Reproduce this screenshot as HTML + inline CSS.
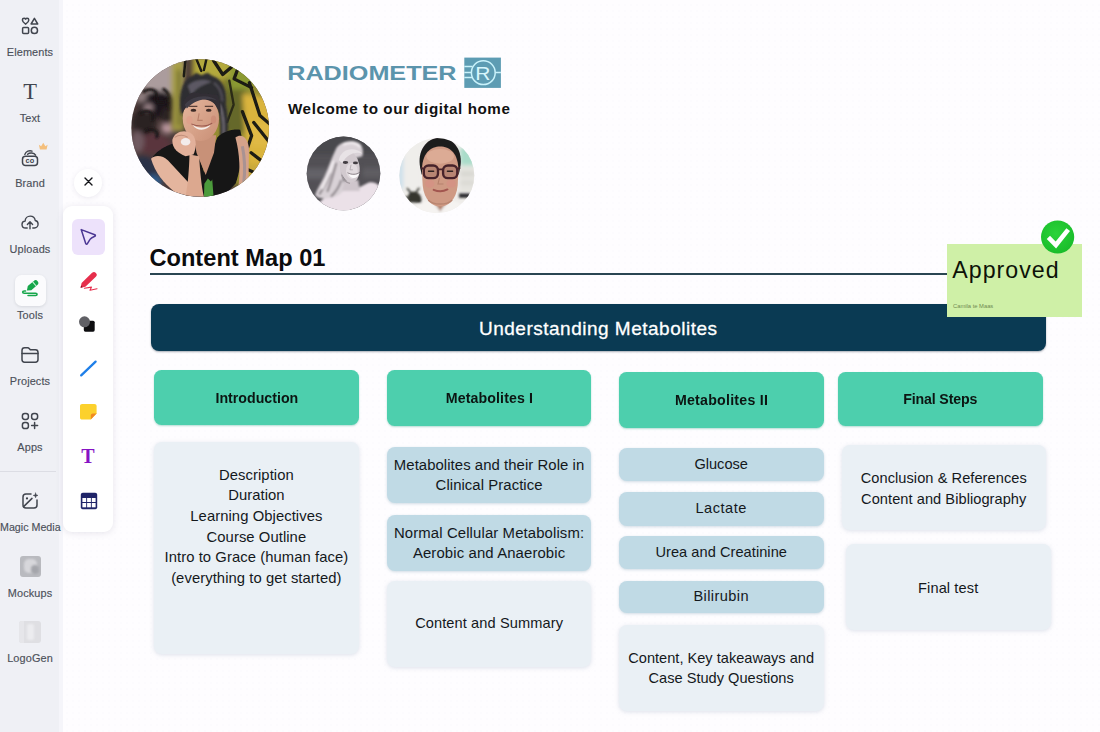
<!DOCTYPE html>
<html lang="en">
<head>
<meta charset="utf-8">
<title>Content Map 01</title>
<style>
*{box-sizing:border-box;margin:0;padding:0}
html,body{width:1100px;height:732px;overflow:hidden}
body{position:relative;font-family:"Liberation Sans",sans-serif;color:#111;
 background-color:#fefdff;
 background-image:radial-gradient(circle,#fcfbfe 0.8px,transparent 1.2px);
 background-size:6px 6px;background-position:64px 2px}
.abs{position:absolute}
/* ---------- sidebar ---------- */
#side{position:absolute;left:0;top:0;width:63px;height:732px;background:#f5f5fa}
#side .in{position:absolute;left:0;top:0;width:58.5px;height:732px;background:#eff0f5}
.nav{position:absolute;left:0;width:60px;text-align:center;font-size:10.9px;letter-spacing:.12px;color:#4c505a;line-height:12px;white-space:nowrap;-webkit-text-stroke:.15px #4c505a}
.ico{position:absolute;left:18px;width:24px;height:24px}
.ico svg{width:24px;height:24px;display:block;fill:none;stroke:#41454e;stroke-width:1.5;stroke-linecap:round;stroke-linejoin:round}
#toolsbg{position:absolute;left:14.5px;top:274.5px;width:31px;height:31px;border-radius:6.5px;background:#fbfbfd;box-shadow:0 1px 3px rgba(60,64,80,.14)}
#divider{position:absolute;left:0;top:470.5px;width:56px;height:1px;background:#dcdde4}
/* ---------- tool palette ---------- */
#closebtn{position:absolute;left:74px;top:169px;width:28px;height:28px;border-radius:50%;background:#fff;box-shadow:0 1px 5px rgba(70,60,100,.10)}
#palette{position:absolute;left:63.3px;top:206.2px;width:50.2px;height:325.8px;border-radius:9px;background:#fff;box-shadow:0 1px 7px rgba(70,60,100,.13)}
#selbg{position:absolute;left:71.5px;top:219.3px;width:33.4px;height:35.6px;border-radius:6px;background:#ede2fb}
/* ---------- header ---------- */
#welcome{position:absolute;left:288px;top:98.8px;font-size:15.2px;font-weight:bold;line-height:20px;white-space:nowrap;color:#111;letter-spacing:.56px}
#title{position:absolute;left:149.4px;top:244.4px;font-size:23.6px;font-weight:bold;line-height:28px;white-space:nowrap;color:#0b0b0d;letter-spacing:.03px}
#rule{position:absolute;left:150px;top:273.1px;width:800px;height:1.6px;background:#2a4652}
#bar{position:absolute;left:150.5px;top:304px;width:895.5px;height:47px;border-radius:8px;background:#0a3a53;color:#fff;
 font-size:19px;letter-spacing:.5px;line-height:49px;text-align:center;box-shadow:0 1px 2px rgba(0,20,40,.35);-webkit-text-stroke:.3px #fff}
#bar span{position:relative;left:0}
/* ---------- sticker ---------- */
#sticker{position:absolute;left:946.5px;top:244px;width:135.5px;height:72.5px;background:#cff0a7}
#approved{position:absolute;left:952.3px;top:255.8px;font-size:23.2px;letter-spacing:1px;line-height:28px;color:#0d1208;white-space:nowrap}
#author{position:absolute;left:953px;top:303.3px;font-size:5.8px;line-height:6px;color:#6f8a52;white-space:nowrap}
/* ---------- columns ---------- */
.g{position:absolute;border-radius:7.5px;background:#4dcfad;color:#0c1512;font-weight:bold;font-size:15.4px;text-align:center;white-space:nowrap;box-shadow:0 1px 2px rgba(40,160,130,.35)}
.g span{display:inline-block;transform:scaleX(.922)}
.b{position:absolute;border-radius:8px;background:#c0dae5;color:#14181c;font-size:14.6px;text-align:center;white-space:nowrap;line-height:20.4px;box-shadow:0 1px 3px rgba(150,180,195,.45)}
.l{position:absolute;border-radius:8px;background:#eaf0f5;color:#14181c;font-size:14.6px;text-align:center;white-space:nowrap;line-height:20.6px;box-shadow:0 1px 4px rgba(190,200,215,.5)}
.t{position:absolute;left:0;right:0}
</style>
</head>
<body>

<!-- SIDEBAR -->
<div id="side"><div class="in"></div></div>
<div id="toolsbg"></div>
<div id="divider"></div>

<!-- PALETTE -->
<div id="closebtn"></div>
<div id="palette"></div>
<div id="selbg"></div>


<!-- sidebar icons -->
<div class="ico" style="top:13.9px"><svg viewBox="0 0 24 24"><path d="M7.6 10.2 C5.2 8.6 4.4 7.2 4.4 6 C4.4 4.9 5.2 4.3 6.1 4.3 C6.8 4.3 7.3 4.7 7.6 5.2 C7.9 4.7 8.4 4.3 9.1 4.3 C10 4.3 10.8 4.9 10.8 6 C10.8 7.2 10 8.6 7.6 10.2Z"/><path d="M16.4 4.3 L19.7 10 H13.1Z"/><rect x="4.6" y="13.4" width="6" height="6" rx="1"/><circle cx="16.4" cy="16.4" r="3.1"/></svg></div>
<div class="nav" style="top:46px">Elements</div>

<div class="abs" style="left:18px;top:79px;width:24px;height:26px;text-align:center;font-family:'Liberation Serif',serif;font-size:22.5px;line-height:26px;color:#41454e">T</div>
<div class="nav" style="top:111.5px">Text</div>

<div class="ico" style="top:146px"><svg viewBox="0 0 24 24"><rect x="4.5" y="10.2" width="15" height="9.4" rx="3"/><path d="M6.8 8.4 C8 5.4 11.4 4 14 5.2" style="stroke-width:1.4"/><path d="M9.6 8.2 C11.8 6.2 16 6.6 17.6 9.2" style="stroke-width:1.4"/><text x="12" y="17.3" text-anchor="middle" style="font-family:'Liberation Sans',sans-serif;font-weight:bold;font-size:7.4px;fill:#41454e;stroke:none;letter-spacing:.2px">co</text></svg></div>
<svg class="abs" style="left:37.6px;top:141px;opacity:.9" width="10.5" height="10.5" viewBox="0 0 12 12"><path d="M1 4.2 L3.6 6 L6 2 L8.4 6 L11 4.2 L9.8 9.6 H2.2Z" fill="#f5ba70"/></svg>
<div class="nav" style="top:176.5px">Brand</div>

<div class="ico" style="top:210.5px"><svg viewBox="0 0 24 24"><g transform="translate(12 11.4) scale(.93) translate(-12 -12.4)"><path d="M9 18.4 H7.4 C4.9 18.4 3.4 16.6 3.4 14.6 C3.4 12.6 4.9 11.1 6.7 11 C6.9 7.9 9.3 5.6 12.2 5.6 C15 5.6 17.2 7.6 17.6 10.3 C19.5 10.6 20.7 12.3 20.7 14.2 C20.7 16.5 19 18.4 16.7 18.4 H15"/><path d="M12 19.2 V12 M9.2 14.6 L12 11.8 L14.8 14.6"/></g></svg></div>
<div class="nav" style="top:242.5px">Uploads</div>

<svg class="abs" style="left:18px;top:277px" width="24" height="24" viewBox="0 0 24 24"><path d="M8.9 13.4 L9.8 9.07 L15.79 3.91 A2.7 2.7 0 0 1 19.31 8.01 L13.32 13.17Z" fill="#16a64b"/><path d="M14.65 4.89 L18.17 8.99" stroke="#c9f5da" stroke-width="1.1"/><path d="M10 18.5 H17.6 C19.6 18.5 19.6 16.2 17.6 16.2 H6.2 C4.1 16.2 4.1 13.9 6.2 13.9 H7.6" fill="none" stroke="#16a64b" stroke-width="1.5" stroke-linecap="round"/></svg>
<div class="nav" style="top:308.5px">Tools</div>

<div class="ico" style="top:343px"><svg viewBox="0 0 24 24"><path d="M4 7.4 C4 5.8 5 4.8 6.6 4.8 H9.6 C10.4 4.8 10.9 5.1 11.4 5.7 L12.3 6.8 H17.4 C19 6.8 20 7.8 20 9.4 V16.6 C20 18.2 19 19.2 17.4 19.2 H6.6 C5 19.2 4 18.2 4 16.6Z"/><path d="M4 10.4 H20"/></svg></div>
<div class="nav" style="top:374.5px">Projects</div>

<div class="ico" style="top:409px"><svg viewBox="0 0 24 24"><rect x="4.4" y="4.4" width="6" height="6" rx="2.4"/><rect x="13.6" y="4.4" width="6" height="6" rx="2.4"/><rect x="4.4" y="13.6" width="6" height="6" rx="2.4"/><path d="M16.6 13.6 V19.6 M13.6 16.6 H19.6"/></svg></div>
<div class="nav" style="top:440.5px">Apps</div>

<div class="ico" style="top:489px"><svg viewBox="0 0 24 24"><path d="M13 5 H8 C6 5 5 6 5 8 V16 C5 18 6 19 8 19 H16 C18 19 19 18 19 16 V11"/><path d="M5.6 17.6 L14 9.4"/><circle cx="9" cy="9.4" r="1.1" style="fill:#3a3e47;stroke:none"/><path d="M17.6 4 L18.2 5.8 L20 6.4 L18.2 7 L17.6 8.8 L17 7 L15.2 6.4 L17 5.8Z" style="fill:#41454e;stroke-width:.5"/></svg></div>
<div class="nav" style="top:521px;letter-spacing:0;font-size:10.7px">Magic Media</div>

<div class="abs" style="left:19.5px;top:556px;width:21px;height:21px;border-radius:3px;background:#b9babf;overflow:hidden"><div class="abs" style="left:4px;top:3px;width:13px;height:14px;border-radius:5px;background:#d7d7db;filter:blur(1.2px)"></div><div class="abs" style="left:11px;top:9px;width:8px;height:9px;border-radius:4px;background:#a4a5ab;filter:blur(1px)"></div></div>
<div class="nav" style="top:586.5px">Mockups</div>

<div class="abs" style="left:19px;top:621px;width:22px;height:22px;border-radius:3px;background:#dfdfe3;overflow:hidden"><div class="abs" style="left:8px;top:3px;width:7px;height:16px;border-radius:2px;background:#ececef;filter:blur(.8px)"></div><div class="abs" style="left:0;top:0;width:5px;height:22px;background:#e6e6ea"></div></div>
<div class="nav" style="top:651.5px">LogoGen</div>

<!-- palette icons -->
<svg class="abs" style="left:81.8px;top:175px" width="13" height="13" viewBox="0 0 13 13"><path d="M3 3 L10 10 M10 3 L3 10" stroke="#15161a" stroke-width="1.4" stroke-linecap="round"/></svg>
<svg class="abs" style="left:76.9px;top:225.1px" width="22" height="22" viewBox="0 0 22 22"><path d="M4.2 4.6 L17.8 9.7 C18.6 10 18.6 10.9 17.8 11.2 C15.4 12.1 13.8 13 13 14.4 L10.4 18.6 C9.9 19.4 9 19.3 8.7 18.4 Z" fill="none" stroke="#4b3794" stroke-width="1.5" stroke-linejoin="round"/></svg>
<svg class="abs" style="left:77px;top:271px" width="24" height="24" viewBox="0 0 24 24"><path d="M3.6 16.7 L4.6 11.98 L15.08 1.84 A2.7 2.7 0 0 1 18.84 5.72 L8.36 15.86Z" fill="#e62e4c"/><path d="M3.6 16.7 L4.05 14.6 L5.7 16.25Z" fill="#7d0f22"/><path d="M7.4 17.3 L14.5 16.1 L13 19.3 L20 17.7" fill="none" stroke="#e62e4c" stroke-width="1.1" stroke-linecap="round" stroke-linejoin="round"/></svg>
<svg class="abs" style="left:76.4px;top:313.3px" width="22" height="22" viewBox="0 0 22 22"><rect x="7.8" y="7.7" width="10.9" height="11" rx="1.6" fill="#0d0d0f"/><circle cx="8.5" cy="8.8" r="5.5" fill="#606065"/></svg>
<svg class="abs" style="left:78px;top:358px" width="21" height="21" viewBox="0 0 21 21"><path d="M3.2 17.4 L17.6 3.6" stroke="#1f7fe8" stroke-width="2.3" stroke-linecap="round"/></svg>
<svg class="abs" style="left:79.1px;top:403.2px" width="19" height="18" viewBox="0 0 19 18"><path d="M3.2 1 H15.4 C16.8 1 17.6 1.8 17.6 3.2 V10.6 L11.8 16.6 H3.2 C1.8 16.6 1 15.8 1 14.4 V3.2 C1 1.8 1.8 1 3.2 1Z" fill="#fcd12c"/><path d="M17.6 10.6 L11.8 16.6 V12.6 C11.8 11.4 12.6 10.6 13.8 10.6Z" fill="#f08a22"/></svg>
<div class="abs" style="left:78px;top:443.5px;width:20px;height:24px;font-family:'Liberation Serif',serif;font-weight:bold;font-size:20px;line-height:24px;text-align:center;color:#8613c4">T</div>
<svg class="abs" style="left:79.5px;top:491.5px" width="18" height="18" viewBox="0 0 18 18"><rect x=".8" y=".8" width="16.4" height="16.4" rx="2" fill="#1f2468"/><g fill="#fff"><rect x="2.4" y="6" width="3.8" height="4"/><rect x="7.1" y="6" width="3.8" height="4"/><rect x="11.8" y="6" width="3.8" height="4"/><rect x="2.4" y="11" width="3.8" height="4.3"/><rect x="7.1" y="11" width="3.8" height="4.3"/><rect x="11.8" y="11" width="3.8" height="4.3"/></g></svg>


<!-- LOGO -->
<svg class="abs" style="left:280px;top:50px" width="240" height="50" viewBox="280 50 240 50">
 <text x="287.2" y="79.8" font-family="Liberation Sans, sans-serif" font-weight="bold" font-size="19.4" fill="#5b94ac" textLength="169.4" lengthAdjust="spacingAndGlyphs">RADIOMETER</text>
 <rect x="464.3" y="57.6" width="36.6" height="30.3" fill="#5d9cb3"/>
 <g stroke="#c9f2fb" stroke-width="1.5" fill="none">
  <circle cx="483.3" cy="72.7" r="11.9"/>
  <path d="M464.3 66.5 H472.6 M464.3 72.4 H471.4 M464.3 77.6 H472.4 M495.2 72.4 H500.9"/>
 </g>
 <text x="475.2" y="79.7" font-family="Liberation Sans, sans-serif" font-size="18.6" fill="#d8f6fc" textLength="15.2" lengthAdjust="spacingAndGlyphs">R</text>
</svg>

<!-- PHOTOS -->
<svg class="abs" style="left:120px;top:50px" width="370" height="175" viewBox="120 50 370 175">
 <defs>
  <clipPath id="c1"><circle cx="200.2" cy="128" r="68.8"/></clipPath>
  <clipPath id="c2"><circle cx="343.5" cy="173.4" r="36.8"/></clipPath>
  <clipPath id="c3"><circle cx="436.8" cy="175.6" r="37.5"/></clipPath>
  <filter id="f3" x="-30%" y="-30%" width="160%" height="160%"><feGaussianBlur stdDeviation="3"/></filter>
  <filter id="f6" x="-30%" y="-30%" width="160%" height="160%"><feGaussianBlur stdDeviation="6"/></filter>
  <filter id="f12" x="-40%" y="-40%" width="180%" height="180%"><feGaussianBlur stdDeviation="12"/></filter>
  <filter id="f20" x="-50%" y="-50%" width="200%" height="200%"><feGaussianBlur stdDeviation="20"/></filter>
  <linearGradient id="skin1" x1="0" y1="0" x2="1" y2="1"><stop offset="0" stop-color="#e6b79e"/><stop offset="1" stop-color="#c98f76"/></linearGradient>
 </defs>

 <!-- big photo : drawn in 732-zoom coords -->
 <g clip-path="url(#c1)"><g transform="translate(120 50) scale(0.21858)">
  <rect x="0" y="0" width="732" height="732" fill="#4a3a39"/>
  <!-- left wall -->
  <g filter="url(#f12)">
   <path d="M90 40 L290 30 L280 205 L110 195Z" fill="#ab9c9d"/>
   <ellipse cx="175" cy="250" rx="85" ry="62" fill="#1f181a"/>
   <ellipse cx="110" cy="330" rx="55" ry="60" fill="#2c2224"/>
   <ellipse cx="218" cy="356" rx="30" ry="26" fill="#b8949c"/><ellipse cx="130" cy="262" rx="22" ry="16" fill="#9c858a"/>
   <ellipse cx="95" cy="215" rx="28" ry="24" fill="#8d7c7e"/>
   <ellipse cx="150" cy="430" rx="80" ry="48" fill="#5a343c"/>
   <ellipse cx="215" cy="300" rx="26" ry="40" fill="#2a2022"/>
   <ellipse cx="100" cy="545" rx="70" ry="60" fill="#2a3346"/>
   <ellipse cx="155" cy="600" rx="36" ry="30" fill="#2d5b8c"/>
   <ellipse cx="80" cy="420" rx="30" ry="50" fill="#6f5a60"/>
  </g>
  <g filter="url(#f6)" fill="none" stroke="#1d1719" stroke-width="14" stroke-linecap="round">
   <path d="M110 190 C140 170 175 185 165 215 C158 240 190 250 215 232"/>
   <path d="M95 290 C125 270 160 285 148 318 M120 370 C150 355 180 372 168 398"/>
   <path d="M200 180 C230 200 235 240 222 268"/>
  </g>
  <!-- right wall (yellow / green) -->
  <g filter="url(#f12)">
   <rect x="330" y="20" width="400" height="600" fill="#958c30"/>
   <rect x="238" y="50" width="54" height="320" fill="#a9a044"/>
   <rect x="262" y="90" width="14" height="260" fill="#5b5a2a"/>
   <rect x="340" y="30" width="230" height="100" fill="#b3a93c"/>
   <rect x="480" y="130" width="95" height="250" fill="#65672a"/>
   <rect x="500" y="60" width="110" height="120" fill="#8b9a32"/>
   <path d="M560 200 L700 225 L700 570 L585 575Z" fill="#dab43c"/>
   <rect x="600" y="330" width="90" height="110" fill="#e0b945"/>
   <rect x="560" y="520" width="80" height="70" fill="#c9a93a"/>
  </g>
  <g filter="url(#f3)" fill="none" stroke="#1b1a12" stroke-width="15" stroke-linecap="round" stroke-linejoin="round">
   <path d="M428 48 L470 112 L520 70"/><path d="M300 40 L292 120 M345 30 L372 96 M398 30 L384 92" stroke-width="11"/>
   <path d="M548 62 L522 132 L602 172"/>
   <path d="M592 150 L640 300 L684 338"/>
   <path d="M560 282 L602 392 L572 482"/>
   <path d="M612 332 L682 420"/>
   <path d="M600 470 L664 520"/>
   <path d="M580 545 L625 565"/>
   <path d="M500 140 L520 250 L490 330" stroke="#2a2a16" stroke-width="11"/>
  </g>
  <!-- hair -->
  <g filter="url(#f6)">
   <path d="M280 300 C262 200 290 130 330 118 L350 104 L372 116 L400 104 L425 120 C470 135 492 180 486 250 C500 330 498 400 476 446 L452 440 C462 380 458 320 448 270 L300 250Z" fill="#2f2d33"/>
   <path d="M310 165 C335 138 385 130 420 146 C395 152 350 170 326 205Z" fill="#5b5963"/><path d="M430 150 C455 170 468 200 468 235" stroke="#55525b" stroke-width="8" fill="none"/>
   <path d="M455 250 C476 300 480 380 468 440" stroke="#77727a" stroke-width="9" fill="none"/>
  </g>
  <!-- shirt -->
  <path d="M148 492 C175 450 235 425 300 415 L335 400 L385 560 L445 400 C475 370 520 360 550 365 C565 420 560 520 530 610 L470 672 L300 668 L285 600 C240 560 190 530 148 492Z" fill="#131317" filter="url(#f3)"/>
  <!-- neck / chest -->
  <path d="M335 390 L440 390 L430 470 L392 572 L350 470Z" fill="#c89178" filter="url(#f3)"/>
  <!-- face -->
  <g filter="url(#f3)">
   <ellipse cx="370" cy="313" rx="83" ry="103" fill="url(#skin1)"/>
   <path d="M284 292 C282 235 300 205 335 195 L445 205 C462 235 462 275 458 305 C450 265 436 240 404 230 C362 218 316 230 284 292Z" fill="#302e34"/>
   <path d="M296 250 C330 205 410 200 446 232 C410 216 345 222 306 268Z" fill="#403d46"/>
   <ellipse cx="336" cy="276" rx="13" ry="7" fill="#3a2925"/><ellipse cx="406" cy="276" rx="13" ry="7" fill="#3a2925"/><path d="M316 258 h38 M388 258 h38" stroke="#5a3f38" stroke-width="5"/>
   <path d="M362 290 l-6 32 h22" stroke="#b9806a" stroke-width="5" fill="none"/>
   <path d="M332 342 C355 360 395 360 416 340 C400 372 350 374 332 342Z" fill="#f6efec"/>
   <path d="M326 338 C355 352 398 352 422 334" stroke="#9b5a50" stroke-width="5" fill="none"/>
   <ellipse cx="318" cy="320" rx="14" ry="18" fill="#df9c88" opacity=".6"/>
   <ellipse cx="428" cy="318" rx="12" ry="18" fill="#c98672" opacity=".6"/>
  </g>
  <!-- arms -->
  <g filter="url(#f3)">
   <path d="M142 498 C160 478 195 482 220 505 L345 640 L330 672 L250 650 C200 610 160 560 142 498Z" fill="#e4b59e"/>
   <path d="M300 668 C312 610 316 540 318 478 L362 486 C366 550 372 620 384 672Z" fill="#dca88f"/>
   <path d="M240 410 C250 372 300 360 330 385 C352 405 350 450 336 478 L300 486 C262 470 236 445 240 410Z" fill="#e2b09a"/>
   <ellipse cx="300" cy="420" rx="22" ry="17" fill="#f3ecec"/>
   <path d="M250 400 C270 385 295 388 310 400" stroke="#c08e7a" stroke-width="5" fill="none"/>
   <path d="M528 400 C556 380 585 400 590 450 L588 610 L540 640 C552 560 548 470 528 400Z" fill="#d5a28a"/>
   <path d="M560 440 C572 500 572 560 566 610" stroke="#9d8f94" stroke-width="14" fill="none" opacity=".8"/>
  </g>
  <path d="M386 612 l16 -24 l14 14 l6 -10 l6 78 l-44 4z" fill="#4c9a3a" filter="url(#f3)"/>
 </g></g>

 <!-- photo 2 : drawn in 5.5x zoom coords of [290,120] -->
 <g clip-path="url(#c2)"><g transform="translate(290 120) scale(0.181818)">
  <rect x="80" y="80" width="440" height="440" fill="#525055"/>
  <g filter="url(#f12)">
   <rect x="80" y="80" width="440" height="110" fill="#4a484d"/>
   <rect x="80" y="265" width="130" height="60" fill="#646267"/>
   <rect x="400" y="262" width="110" height="56" fill="#5f5d62"/>
  </g>
  <g filter="url(#f6)">
   <path d="M130 520 C140 460 190 415 260 395 L330 380 C380 378 400 360 430 345 C470 335 500 360 510 400 L510 520Z" fill="#ebe1e8"/>
   <path d="M250 165 C262 130 310 112 355 118 C395 124 408 160 398 200 L290 230 C285 290 292 340 305 372 C290 400 262 420 225 428 C190 436 150 430 138 412 C150 380 172 345 190 310 C210 265 228 210 250 165Z" fill="#d9d2d7"/>
   <path d="M222 290 C210 335 185 375 160 410 M255 235 C240 290 228 340 205 395 M282 330 C270 372 250 398 225 422" stroke="#8d868b" stroke-width="12" fill="none"/>
   <path d="M240 225 C225 280 200 330 175 380" stroke="#f2edf0" stroke-width="13" fill="none"/>
   <path d="M292 135 C322 118 365 122 388 148" stroke="#f2edf0" stroke-width="14" fill="none"/>
   <path d="M300 330 h75 l10 60 h-100z" fill="#cfc6cc"/>
  </g>
  <g filter="url(#f3)">
   <ellipse cx="328" cy="256" rx="54" ry="88" transform="rotate(-10 328 256)" fill="#d2cacf"/>
   <ellipse cx="340" cy="280" rx="32" ry="44" fill="#e2dbdf"/>
   <path d="M268 222 C280 160 350 142 398 184 C360 172 312 186 288 238Z" fill="#e8e3e6"/>
   <ellipse cx="305" cy="234" rx="15" ry="8" fill="#423d42"/>
   <ellipse cx="360" cy="236" rx="14" ry="8" fill="#423d42"/>
   <path d="M320 292 C338 306 366 306 382 290 C374 328 330 330 320 292Z" fill="#fbf9fa"/>
   <path d="M316 290 C338 302 366 302 386 286" stroke="#6f686d" stroke-width="4" fill="none"/>
   <path d="M336 246 l-6 28 h16" stroke="#a8a0a5" stroke-width="4" fill="none"/>
   <path d="M284 300 C292 330 310 345 330 348" stroke="#a39ba0" stroke-width="7" fill="none"/>
  </g>
 </g></g>

 <!-- photo 3 -->
 <g clip-path="url(#c3)"><g transform="translate(290 120) scale(0.181818)">
  <rect x="590" y="90" width="440" height="440" fill="#efedea"/>
  <g filter="url(#f12)">
   <rect x="590" y="100" width="120" height="300" fill="#efeeeb"/>
   <rect x="596" y="190" width="24" height="190" fill="#c3dbea"/>
   <rect x="935" y="150" width="90" height="100" fill="#a9dcc9"/>
   <rect x="930" y="255" width="90" height="150" fill="#e4e3de"/>
   <rect x="935" y="290" width="85" height="12" fill="#c9c8c2"/>
   <rect x="935" y="340" width="85" height="12" fill="#cfcec8"/>
  </g>
  <g filter="url(#f6)">
   <path d="M648 452 C640 420 655 392 685 394 C712 396 728 424 722 456Z" fill="#34352f"/>
   <path d="M668 404 l-22 -26 M694 398 l14 -22 M660 430 l-26 -6" stroke="#3a3b35" stroke-width="10" stroke-linecap="round"/>
   <rect x="930" y="404" width="62" height="24" fill="#2c2c2e"/>
   <path d="M660 530 C680 470 735 446 778 440 L826 505 L878 440 C925 448 975 472 995 530Z" fill="#f5f3f1"/>
   <path d="M778 442 L826 510 L878 442 L860 440 L826 488 L794 440Z" fill="#dcd8d4"/>
   <path d="M786 440 h82 l-42 58z" fill="#b27d68"/>
  </g>
  <g filter="url(#f3)">
   <path d="M716 262 C698 170 750 98 826 98 C902 98 954 170 936 264 L928 300 L724 300Z" fill="#1f1c1e"/>
   <path d="M726 290 C722 180 776 146 826 146 C876 146 930 180 926 290 L922 362 C914 440 870 476 826 476 C782 476 738 440 730 362Z" fill="#cf9a84"/>
   <ellipse cx="826" cy="200" rx="76" ry="40" fill="#dcab95"/>
   <ellipse cx="768" cy="350" rx="26" ry="22" fill="#d78f84" opacity=".6"/>
   <ellipse cx="886" cy="350" rx="26" ry="22" fill="#d78f84" opacity=".6"/>
   <g fill="#a97868" fill-opacity=".6" stroke="#47232a" stroke-width="13"><rect x="736" y="250" width="78" height="70" rx="26"/><rect x="842" y="250" width="78" height="70" rx="26"/></g>
   <path d="M814 272 h28 M720 262 l16 8 M920 270 l16 -8" stroke="#47232a" stroke-width="10" fill="none"/>
   <path d="M762 282 h28 M866 282 h28" stroke="#2f2220" stroke-width="8" stroke-linecap="round"/>
   <path d="M790 384 C812 394 844 394 866 382" stroke="#a2564f" stroke-width="11" fill="none" stroke-linecap="round"/>
   <path d="M822 318 l-8 34 h30" stroke="#b5806c" stroke-width="6" fill="none"/>
   <path d="M760 440 C790 470 862 470 892 440" stroke="#b98570" stroke-width="8" fill="none"/>
  </g>
 </g></g>
</svg>

<!-- HEADER TEXT -->
<div id="welcome">Welcome to our digital home</div>
<div id="title">Content Map 01</div>
<div id="rule"></div>
<div id="bar"><span>Understanding Metabolites</span></div>

<!-- STICKER -->
<div id="sticker"></div>

<svg class="abs" style="left:1038px;top:218px" width="40" height="40" viewBox="1038 218 40 40">
 <defs><radialGradient id="cg" cx=".45" cy=".4" r=".7"><stop offset="0" stop-color="#2bd33a"/><stop offset="1" stop-color="#17b928"/></radialGradient></defs>
 <circle cx="1057.6" cy="237" r="16.6" fill="url(#cg)"/>
 <path d="M1048.4 237.4 L1055.9 245 L1068.2 229.6" fill="none" stroke="#fff" stroke-width="4.6" stroke-linejoin="miter"/>
</svg>
<div id="approved">Approved</div>
<div id="author">Camila te Maas</div>

<!-- COLUMNS -->
<div class="g" style="left:154.3px;top:370.3px;width:204.7px;height:55px;line-height:55.9px"><span>Introduction</span></div>
<div class="g" style="left:386.7px;top:370.3px;width:204.7px;height:55.3px;line-height:55.9px;letter-spacing:.12px"><span>Metabolites I</span></div>
<div class="g" style="left:619px;top:372px;width:204.7px;height:55.6px;line-height:56.3px;letter-spacing:.25px"><span>Metabolites II</span></div>
<div class="g" style="left:838px;top:371.7px;width:204.9px;height:54px;line-height:53.7px;letter-spacing:-.15px"><span>Final Steps</span></div>

<div class="l" style="left:154.2px;top:441.5px;width:204.4px;height:212px"><div class="t" style="top:23.15px;font-size:14.8px;letter-spacing:.07px;line-height:20.66px">Description<br>Duration<br>Learning Objectives<br>Course Outline<br>Intro to Grace (human face)<br>(everything to get started)</div></div>

<div class="b" style="left:386.7px;top:446.7px;width:204.8px;height:56px"><div class="t" style="top:8.4px;font-size:14.9px;letter-spacing:.06px;line-height:20px">Metabolites and their Role in<br>Clinical Practice</div></div>
<div class="b" style="left:386.7px;top:515.4px;width:204.8px;height:56px"><div class="t" style="top:7.8px;font-size:14.9px;letter-spacing:.12px;line-height:20px">Normal Cellular Metabolism:<br>Aerobic and Anaerobic</div></div>
<div class="l" style="left:386.7px;top:581px;width:204.8px;height:86px"><div class="t" style="top:32px;letter-spacing:.1px">Content and Summary</div></div>

<div class="b" style="left:618.6px;top:447.5px;width:205.2px;height:33px"><div class="t" style="top:6.2px">Glucose</div></div>
<div class="b" style="left:618.6px;top:492px;width:205.2px;height:33.8px"><div class="t" style="top:5.8px;letter-spacing:.5px">Lactate</div></div>
<div class="b" style="left:618.6px;top:536px;width:205.2px;height:32.8px"><div class="t" style="top:5.6px;letter-spacing:.05px">Urea and Creatinine</div></div>
<div class="b" style="left:618.6px;top:580.5px;width:205.2px;height:32.4px"><div class="t" style="top:5.6px;letter-spacing:.4px">Bilirubin</div></div>
<div class="l" style="left:618.6px;top:624.5px;width:205.2px;height:86.4px"><div class="t" style="top:23px;line-height:20px">Content, Key takeaways and<br>Case Study Questions</div></div>

<div class="l" style="left:842px;top:445.2px;width:203.5px;height:84.6px"><div class="t" style="top:22.6px;line-height:21.3px;letter-spacing:.06px">Conclusion &amp; References<br>Content and Bibliography</div></div>
<div class="l" style="left:845.8px;top:543.6px;width:204.8px;height:86.4px"><div class="t" style="top:34px;letter-spacing:.1px">Final test</div></div>

</body>
</html>
